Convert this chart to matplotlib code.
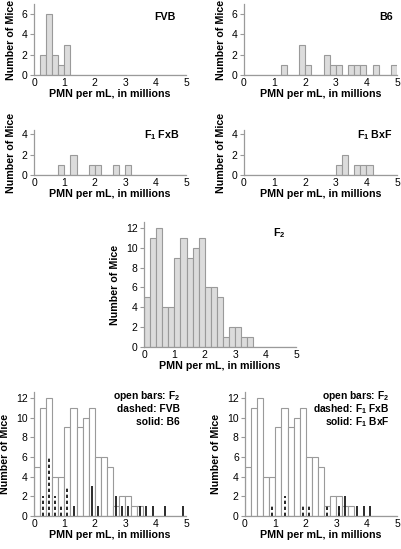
import numpy as np
import matplotlib
matplotlib.use('Agg')
import matplotlib.pyplot as plt

plt.rcParams['font.family'] = ['Liberation Sans', 'DejaVu Sans']
plt.rcParams['mathtext.fontset'] = 'custom'
plt.rcParams['mathtext.bf'] = 'Liberation Sans:bold'
plt.rcParams['mathtext.rm'] = 'Liberation Sans:bold'

# bin edges are 0.2 wide, from 0 to 5 (left edges below)
bin_left = np.round(np.arange(0, 5, 0.2), 1)

fvb = [0, 2, 6, 2, 1, 3, 0, 0, 0, 0, 0, 0, 0, 0, 0, 0, 0, 0, 0, 0, 0, 0, 0, 0, 0]
b6 = [0, 0, 0, 0, 0, 0, 1, 0, 0, 3, 1, 0, 0, 2, 1, 1, 0, 1, 1, 1, 0, 1, 0, 0, 1]
f1_fxb = [0, 0, 0, 0, 1, 0, 2, 0, 0, 1, 1, 0, 0, 1, 0, 1, 0, 0, 0, 0, 0, 0, 0, 0, 0]
f1_bxf = [0, 0, 0, 0, 0, 0, 0, 0, 0, 0, 0, 0, 0, 0, 0, 1, 2, 0, 1, 1, 1, 0, 0, 0, 0]
f2 = [5, 11, 12, 4, 4, 9, 11, 9, 10, 11, 6, 6, 5, 1, 2, 2, 1, 1, 0, 0, 0, 0, 0, 0, 0]

W, H = 401, 549
fig = plt.figure(figsize=(W / 100, H / 100), dpi=100)

GREY = '#9a9a9a'
FILL = '#dcdcdc'
TICK_FS = 7.5
LAB_FS = 7.7


def make_ax(x0, x1, ytop, ybot):
    return fig.add_axes([x0 / W, (H - ybot) / H, (x1 - x0) / W, (ybot - ytop) / H])


def style(ax, ymax, yticks):
    ax.set_xlim(0, 5)
    ax.set_ylim(0, ymax)
    ax.set_xticks(range(6))
    ax.set_yticks(yticks)
    for s in ['top', 'right']:
        ax.spines[s].set_visible(False)
    for s in ['left', 'bottom']:
        ax.spines[s].set_color(GREY)
        ax.spines[s].set_linewidth(0.9)
    ax.tick_params(axis='y', length=3, color=GREY, labelsize=TICK_FS, pad=1.5)
    ax.tick_params(axis='x', length=0, labelsize=TICK_FS, pad=2)
    ax.set_xlabel('PMN per mL, in millions', fontsize=LAB_FS, fontweight='bold', labelpad=1)
    ax.set_ylabel('Number of Mice', fontsize=LAB_FS, fontweight='bold', labelpad=4)
    ax.patch.set_alpha(0)


def hist(ax, counts, fill=FILL):
    ax.bar(bin_left, counts, width=0.2, align='edge', color=fill,
           edgecolor=GREY, linewidth=0.8)


def label(ax, x, y, s, fs=LAB_FS):
    ax.text(x, y, s, transform=ax.transAxes, ha='right', va='center',
            fontsize=fs, fontweight='bold')


# top row
ax = make_ax(34, 186, 4, 75)
hist(ax, fvb)
style(ax, 7, [0, 2, 4, 6])
label(ax, 0.93, 0.82, 'FVB')

ax = make_ax(244, 397, 4, 75)
hist(ax, b6)
style(ax, 7, [0, 2, 4, 6])
label(ax, 0.97, 0.82, 'B6')

# second row
ax = make_ax(34, 186, 130, 175)
hist(ax, f1_fxb)
style(ax, 4.4, [0, 2, 4])
label(ax, 0.96, 0.89, r'F$_\mathbf{1}$ FxB')

ax = make_ax(244, 397, 130, 175)
hist(ax, f1_bxf)
style(ax, 4.4, [0, 2, 4])
label(ax, 0.97, 0.89, r'F$_\mathbf{1}$ BxF')

# F2
ax = make_ax(144, 296, 222, 347)
hist(ax, f2)
style(ax, 12.6, [0, 2, 4, 6, 8, 10, 12])
label(ax, 0.93, 0.91, r'F$_\mathbf{2}$')

# overlays
centers = bin_left + 0.1


def overlay(ax, dashed, solid, names, xr):
    hist(ax, f2, fill='white')
    for c, n in zip(centers, dashed):
        if n:
            ax.vlines(c, 0, n, colors='black', linestyles=(0, (2, 1.6)), linewidth=1.2)
    for c, n in zip(centers, solid):
        if n:
            ax.vlines(c, 0, n, colors='#1a1a1a', linewidth=1.3)
    style(ax, 12.6, [0, 2, 4, 6, 8, 10, 12])
    for y, s in zip([0.97, 0.865, 0.76], names):
        label(ax, xr, y, s, fs=7.4)


ax = make_ax(34, 186, 392, 516)
overlay(ax, fvb, b6, [r'open bars: F$_\mathbf{2}$', 'dashed: FVB', 'solid: B6'], 0.96)

ax = make_ax(245, 397, 392, 516)
overlay(ax, f1_fxb, f1_bxf, [r'open bars: F$_\mathbf{2}$', r'dashed: F$_\mathbf{1}$ FxB',
                             r'solid: F$_\mathbf{1}$ BxF'], 0.95)

fig.savefig('out.png', dpi=100)
